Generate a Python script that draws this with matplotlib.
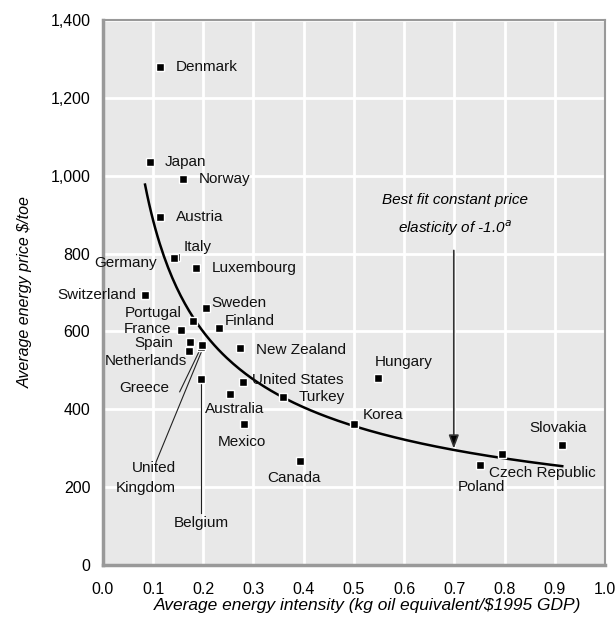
import numpy as np
import matplotlib.pyplot as plt
from matplotlib.ticker import FuncFormatter

plt.rcParams['font.family'] = ['Liberation Sans', 'DejaVu Sans']

# energy intensity (kg oe / $1995 GDP) and average energy price ($/toe)
countries = ['Denmark', 'Japan', 'Norway', 'Austria', 'Italy', 'Germany', 'Luxembourg',
             'Switzerland', 'Sweden', 'Portugal', 'Finland', 'France', 'Spain',
             'Netherlands', 'Greece', 'United\nKingdom', 'Belgium', 'New Zealand',
             'United States', 'Australia', 'Turkey', 'Mexico', 'Canada', 'Hungary',
             'Korea', 'Slovakia', 'Czech Republic', 'Poland']
intensity = [0.113, 0.094, 0.159, 0.114, 0.145, 0.142, 0.186,
             0.084, 0.205, 0.179, 0.231, 0.155, 0.173,
             0.171, 0.196, 0.198, 0.196, 0.273,
             0.279, 0.253, 0.358, 0.281, 0.392, 0.549,
             0.501, 0.915, 0.795, 0.751]
price = [1280, 1035, 992, 894, 791, 788, 763,
         694, 660, 627, 609, 604, 573,
         550, 560, 565, 478, 557,
         470, 439, 432, 362, 267, 481,
         362, 308, 285, 257]

# label anchor (x, y) and horizontal alignment
label_pos = {
    'Denmark': (0.145, 1280, 'left'), 'Japan': (0.124, 1035, 'left'),
    'Norway': (0.191, 992, 'left'), 'Austria': (0.145, 894, 'left'),
    'Italy': (0.161, 817, 'left'), 'Germany': (0.107, 776, 'right'),
    'Luxembourg': (0.217, 763, 'left'), 'Switzerland': (0.066, 694, 'right'),
    'Sweden': (0.217, 674, 'left'), 'Portugal': (0.157, 648, 'right'),
    'Finland': (0.243, 627, 'left'), 'France': (0.137, 606, 'right'),
    'Spain': (0.141, 570, 'right'), 'Netherlands': (0.168, 524, 'right'),
    'Greece': (0.132, 455, 'right'), 'United\nKingdom': (0.145, 224, 'right'),
    'Belgium': (0.196, 108, 'center'), 'New Zealand': (0.305, 553, 'left'),
    'United States': (0.298, 475, 'left'), 'Australia': (0.203, 401, 'left'),
    'Turkey': (0.390, 432, 'left'), 'Mexico': (0.229, 316, 'left'),
    'Canada': (0.327, 224, 'left'), 'Hungary': (0.542, 522, 'left'),
    'Korea': (0.518, 386, 'left'), 'Slovakia': (0.849, 352, 'left'),
    'Czech Republic': (0.769, 237, 'left'), 'Poland': (0.707, 200, 'left'),
}

# leader lines for the crowded cluster
leaders = {
    'Greece': [(0.153, 445), (0.193, 552)],
    'United\nKingdom': [(0.106, 265), (0.197, 550)],
    'Belgium': [(0.196, 470), (0.196, 134)],
}

# fitted curve y = a * (x / x0)^b
fit_a, fit_b = 977, -0.564
fit_x0, fit_x1 = 0.084, 0.915
fit_x = np.linspace(fit_x0, fit_x1, 200)
fit_y = fit_a * (fit_x / fit_x0) ** fit_b

fig = plt.figure(figsize=(6.16, 6.19), dpi=100)
ax = fig.add_axes([0.167, 0.087, 0.815, 0.881])
ax.set_facecolor('#e8e8e8')
ax.set_xlim(0, 1.0)
ax.set_ylim(0, 1400)
ax.set_xticks(np.arange(0, 1.01, 0.1))
ax.set_yticks(np.arange(0, 1401, 200))
ax.grid(True, color='white', linewidth=2)
ax.set_axisbelow(True)
ax.tick_params(length=0, labelsize=11.5)
ax.tick_params(axis='x', pad=12)
ax.tick_params(axis='y', pad=9)
ax.xaxis.set_major_formatter(FuncFormatter(lambda v, p: f'{v:.1f}'))
ax.yaxis.set_major_formatter(FuncFormatter(lambda v, p: f'{v:,.0f}'))
for s in ax.spines.values():
    s.set_color('#999999')
    s.set_linewidth(1.5)
ax.spines['left'].set_linewidth(2.5)
ax.spines['bottom'].set_linewidth(2.5)

ax.plot(fit_x, fit_y, color='black', linewidth=1.8, zorder=3)
ax.plot(intensity, price, 's', color='black', markersize=5.5,
        markeredgecolor='white', markeredgewidth=1, linestyle='none', zorder=4)

for name, (lx, ly, ha) in label_pos.items():
    ax.text(lx, ly, name, ha=ha, va='center', fontsize=11, color='#111111',
            linespacing=1.6, multialignment='right', zorder=5)
for name, pts in leaders.items():
    (x0, y0), (x1, y1) = pts
    ax.plot([x0, x1], [y0, y1], color='#222222', linewidth=0.8, zorder=3)

ax.annotate('', xy=(0.699, 292), xytext=(0.699, 815),
            arrowprops=dict(arrowstyle='-|>,head_width=0.3,head_length=0.8',
                            color='#333333', fc='black', linewidth=1.2), zorder=5)
ax.text(0.701, 938, 'Best fit constant price', ha='center', va='center',
        fontsize=11, style='italic')
ax.text(0.701, 866, 'elasticity of -1.0$^{a}$', ha='center', va='center',
        fontsize=11, style='italic')

ax.set_xlabel('Average energy intensity (kg oil equivalent/$1995 GDP)',
              style='italic', fontsize=12.5)
ax.xaxis.set_label_coords(0.528, -0.061)
ax.set_ylabel('Average energy price $/toe', style='italic', fontsize=11.5, labelpad=13)

fig.savefig('out.png', dpi=100)
